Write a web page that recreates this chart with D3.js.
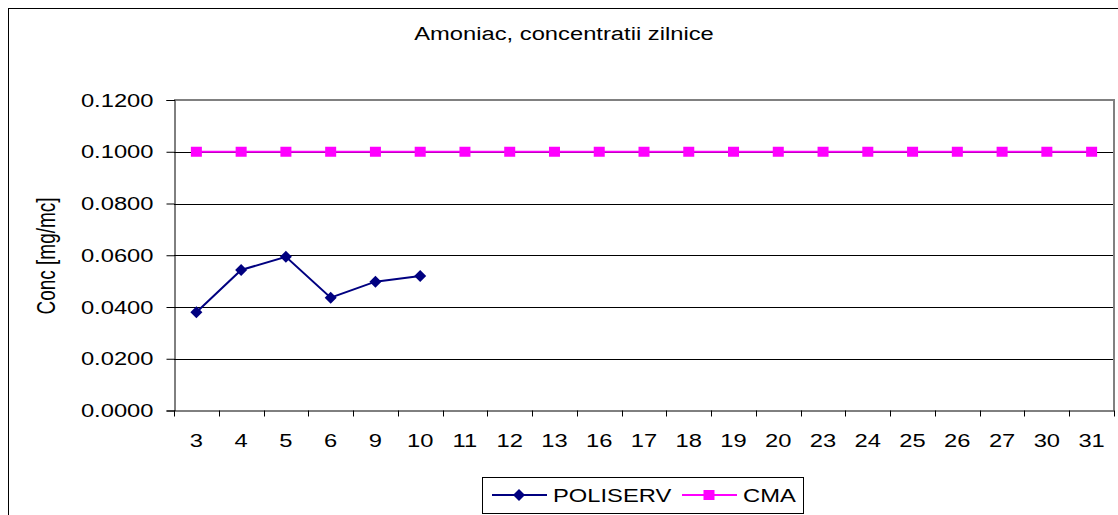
<!DOCTYPE html>
<html>
<head>
<meta charset="utf-8">
<script src="https://cdn.jsdelivr.net/npm/d3@7"></script>
<style>
  body { margin: 0; background: #fff; }
  svg text { font-family: "Liberation Sans", Arial, sans-serif; fill: #000; }
</style>
</head>
<body>
<div id="chart"></div>
<script>
// days of the month that were measured
const days = ["3", "4", "5", "6", "9", "10", "11", "12", "13", "16", "17", "18", "19", "20", "23", "24", "25", "26", "27", "30", "31"];
// POLISERV only has the first six days
const poliserv = [0.0380, 0.0543, 0.0594, 0.0436, 0.0498, 0.0520];
// CMA limit, same on every day
const cma = [0.1, 0.1, 0.1, 0.1, 0.1, 0.1, 0.1, 0.1, 0.1, 0.1, 0.1, 0.1, 0.1, 0.1, 0.1, 0.1, 0.1, 0.1, 0.1, 0.1, 0.1];
const yTicks = [0, 0.02, 0.04, 0.06, 0.08, 0.1, 0.12];

const width = 1118, height = 515;
const stretch = 1.32; // excel-ish wide text

const svg = d3.select("#chart")
  .append("svg")
  .attr("width", width)
  .attr("height", height);

// outer chart frame (runs off the right/bottom)
svg.append("rect")
  .attr("x", 8.5).attr("y", 8.5)
  .attr("width", 1130).attr("height", 530)
  .attr("fill", "none")
  .attr("stroke", "#000");

const x = d3.scaleBand().domain(days).range([174, 1114]);
const y = d3.scaleLinear().domain([0, 0.12]).range([410.5, 100]);

function wideText(sel, px, py, anchor, size) {
  return sel.append("text")
    .attr("transform", `translate(${px},${py}) scale(${stretch},1)`)
    .attr("text-anchor", anchor)
    .style("font-size", size + "px");
}

// title
wideText(svg, 564, 40, "middle", 18).text("Amoniac, concentratii zilnice");

// gridlines
svg.append("g")
  .selectAll("line")
  .data(yTicks.filter(d => d > 0 && d < 0.12))
  .enter()
  .append("line")
  .attr("x1", 174).attr("x2", 1114)
  .attr("y1", d => Math.round(y(d)) + 0.5)
  .attr("y2", d => Math.round(y(d)) + 0.5)
  .attr("stroke", "#000");

// plot area top + right border (grey)
svg.append("path")
  .attr("d", `M174,${y(0.12)}H1114V${y(0)}`)
  .attr("fill", "none")
  .attr("stroke", "#808080")
  .attr("stroke-width", 2);

// y axis
const yAxis = svg.append("g")
  .attr("transform", "translate(174.5,0)")
  .call(d3.axisLeft(y).tickValues(yTicks).tickSize(8).tickFormat(d3.format(".4f")));
yAxis.select(".domain").attr("stroke", "#000");
yAxis.selectAll(".tick line").attr("stroke", "#000");
yAxis.selectAll(".tick text")
  .attr("x", null).attr("dy", "0.34em")
  .attr("transform", `translate(-21,0) scale(${stretch},1)`)
  .style("font-size", "18px")
  .style("font-family", "Liberation Sans, Arial, sans-serif");

// x axis: labels centred, ticks on the band edges
const xAxis = svg.append("g")
  .attr("transform", "translate(0,410.5)")
  .call(d3.axisBottom(x).tickSize(0));
xAxis.select(".domain").attr("stroke", "#000");
xAxis.selectAll(".tick text")
  .attr("y", null).attr("dy", null)
  .attr("transform", `translate(0,36.5) scale(${stretch},1)`)
  .style("font-size", "18px")
  .style("font-family", "Liberation Sans, Arial, sans-serif");
xAxis.selectAll(".edge")
  .data(days.map(d => x(d)).concat([x.range()[1]]))
  .enter()
  .append("line")
  .attr("class", "edge")
  .attr("x1", d => Math.round(d) + 0.5).attr("x2", d => Math.round(d) + 0.5)
  .attr("y1", 0).attr("y2", 6)
  .attr("stroke", "#000");

// y axis title
svg.append("text")
  .attr("transform", `translate(55,256) rotate(-90) scale(1,${stretch})`)
  .attr("text-anchor", "middle")
  .style("font-size", "19px")
  .text("Conc [mg/mc]");

const cx = d => x(d) + x.bandwidth() / 2;
const line = d3.line().x(d => cx(d.day)).y(d => y(d.v));

// CMA
const cmaData = cma.map((v, i) => ({ day: days[i], v: v }));
svg.append("path")
  .datum(cmaData)
  .attr("d", line)
  .attr("fill", "none")
  .attr("stroke", "#ff00ff")
  .attr("stroke-width", 2);
svg.append("g")
  .selectAll("rect")
  .data(cmaData)
  .enter()
  .append("rect")
  .attr("x", d => cx(d.day) - 5.5)
  .attr("y", d => y(d.v) - 5)
  .attr("width", 11).attr("height", 10)
  .attr("fill", "#ff00ff");

// POLISERV
const polData = poliserv.map((v, i) => ({ day: days[i], v: v }));
svg.append("path")
  .datum(polData)
  .attr("d", line)
  .attr("fill", "none")
  .attr("stroke", "#000080")
  .attr("stroke-width", 2);
const diamond = "M0,-6L6,0L0,6L-6,0Z";
svg.append("g")
  .selectAll("path")
  .data(polData)
  .enter()
  .append("path")
  .attr("d", diamond)
  .attr("transform", d => `translate(${cx(d.day)},${y(d.v)})`)
  .attr("fill", "#000080");

// legend
const legend = svg.append("g");
legend.append("rect")
  .attr("x", 482.5).attr("y", 477.5)
  .attr("width", 321).attr("height", 36)
  .attr("fill", "#fff")
  .attr("stroke", "#000");

const legItems = [
  { name: "POLISERV", color: "#000080", x0: 492, tx: 553, shape: "diamond" },
  { name: "CMA", color: "#ff00ff", x0: 682, tx: 743, shape: "square" }
];
legItems.forEach(function(it) {
  legend.append("line")
    .attr("x1", it.x0).attr("x2", it.x0 + 55)
    .attr("y1", 495).attr("y2", 495)
    .attr("stroke", it.color).attr("stroke-width", 2);
  if (it.shape === "diamond") {
    legend.append("path")
      .attr("d", diamond)
      .attr("transform", `translate(${it.x0 + 27},495)`)
      .attr("fill", it.color);
  } else {
    legend.append("rect")
      .attr("x", it.x0 + 27 - 5.5).attr("y", 490)
      .attr("width", 11).attr("height", 10)
      .attr("fill", it.color);
  }
  wideText(legend, it.tx, 501.5, "start", 18).text(it.name);
});
</script>
</body>
</html>
